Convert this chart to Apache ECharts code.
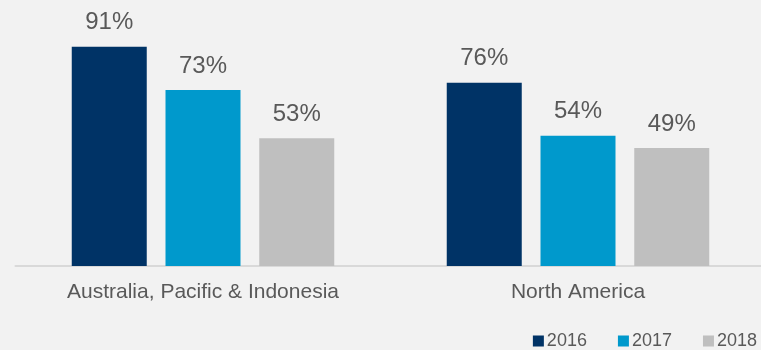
<!DOCTYPE html>
<html>
<head>
<meta charset="utf-8">
<script src="https://cdn.jsdelivr.net/npm/echarts@6/dist/echarts.min.js"></script>
<style>
  html, body { margin: 0; padding: 0; background: #f2f2f2; overflow: hidden; }
  /* the plot runs slightly past the right edge of the window */
  #chart { width: 766px; height: 350px; }
</style>
</head>
<body>
<div id="chart"></div>
<script>
// Regions on the category axis
const regions = ['Australia, Pacific & Indonesia', 'North America'];
// Yearly shares (%) per region
const years = ['2016', '2017', '2018'];
const values2016 = [91, 76];
const values2017 = [73, 54];
const values2018 = [53, 49];
const colors = ['#003366', '#0099cc', '#bfbfbf'];

const seriesValues = [values2016, values2017, values2018];
const textColor = '#595959';
const font = 'Arial, "Liberation Sans", sans-serif';

const chart = echarts.init(document.getElementById('chart'));
chart.setOption({
  backgroundColor: '#f2f2f2',
  animation: false,
  grid: { left: 15.5, right: 0.5, top: 25, bottom: 84 },
  legend: {
    data: years,
    right: 4,
    bottom: -5,
    itemWidth: 11,
    itemHeight: 11,
    itemGap: 31,
    icon: 'rect',
    textStyle: { color: textColor, fontSize: 18, fontFamily: font, padding: [0, 0, 0, -2] }
  },
  xAxis: {
    type: 'category',
    data: regions,
    axisLine: { lineStyle: { color: '#d9d9d9', width: 2 } },
    axisTick: { show: false },
    axisLabel: { color: textColor, fontSize: 21, fontFamily: font, margin: 16 }
  },
  yAxis: {
    type: 'value',
    min: 0,
    max: 100,
    show: false,
    splitLine: { show: false }
  },
  series: years.map((y, i) => ({
    name: y,
    type: 'bar',
    data: seriesValues[i],
    barWidth: 75,
    barGap: '25%',
    itemStyle: { color: colors[i] },
    label: {
      show: true,
      position: 'top',
      distance: 12,
      formatter: '{c}%',
      color: textColor,
      fontSize: 24,
      fontFamily: font
    }
  }))
});
</script>
</body>
</html>
